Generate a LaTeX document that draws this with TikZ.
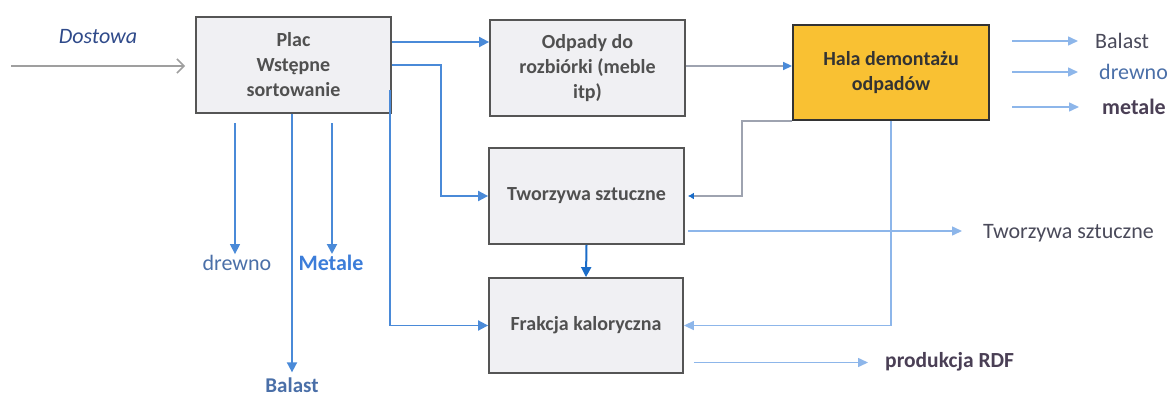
\documentclass[tikz,border=0pt]{standalone}
\usepackage{fontspec}
\setmainfont{Carlito}
\usetikzlibrary{arrows.meta,calc}
\definecolor{boxfill}{HTML}{F0F0F3}
\definecolor{boxline}{HTML}{555555}
\definecolor{boxtext}{HTML}{505050}
\definecolor{halafill}{HTML}{F9C133}
\definecolor{mblue}{HTML}{4A8AD8}
\definecolor{lblue}{HTML}{8DB6EA}
\definecolor{dblue}{HTML}{1A6CC8}
\definecolor{gline}{HTML}{9EA3B0}
\definecolor{labtext}{HTML}{4A4A5A}
\definecolor{bluetext}{HTML}{4A6FA8}
\definecolor{dostcol}{HTML}{2F4A8A}
\definecolor{metcol}{HTML}{3C7DD9}
\definecolor{darklab}{HTML}{4A3F55}
\tikzset{
  procbox/.style={draw=boxline, line width=1.8pt, fill=boxfill, text=boxtext,
    minimum width=195pt, minimum height=96pt, align=center, inner sep=2pt,
    font=\fontsize{20}{25}\selectfont\bfseries},
  halabox/.style={procbox, fill=halafill, draw=black!80, text=black!80},
  bluearrow/.style={draw=mblue, line width=1.8pt, -{Triangle[length=10pt,width=10pt]}},
  lightarrow/.style={draw=lblue, line width=1.5pt, -{Triangle[length=10pt,width=9pt]}},
  darkarrow/.style={draw=dblue, line width=2pt, -{Triangle[length=10pt,width=10pt]}},
  grayarrow/.style={draw=gray!75, line width=1.6pt, -{Straight Barb[length=7pt,width=14pt]}},
  thinarrow/.style={draw=gline, line width=1.4pt, -{Triangle[length=9pt,width=8pt,fill=mblue,color=mblue]}},
  lab/.style={font=\fontsize{22}{26}\selectfont, text=labtext, inner sep=1pt},
}
\begin{document}
\begin{tikzpicture}[x=1pt,y=-1pt]
\useasboundingbox (0,0) rectangle (1173,396);
% boxes
\node[procbox] (plac) at (293.5,65) {Plac\\Wstępne\\sortowanie};
\node[procbox] (odp) at (587.5,68) {Odpady do\\rozbiórki (meble\\itp)};
\node[halabox, minimum width=196pt, minimum height=95pt] (hala) at (891,72.5) {Hala demontażu\\odpadów};
\node[procbox] (tw) at (586.5,196) {Tworzywa sztuczne};
\node[procbox, minimum width=194pt, minimum height=95pt] (fr) at (586,325.5) {Frakcja kaloryczna};
% labels
\node[lab, font=\fontsize{22}{26}\selectfont\itshape, text=dostcol] (dost) at (98,37) {Dostowa};
\node[lab, text=bluetext] (drL) at (237,263) {drewno};
\node[lab, font=\fontsize{22}{26}\selectfont\bfseries, text=metcol] (metL) at (331,263) {Metale};
\node[lab, text=bluetext, font=\fontsize{21}{24}\selectfont\bfseries] (balL) at (292,385) {Balast};
\node[lab, anchor=west] (twL) at (982,233) {Tworzywa sztuczne};
\node[lab, anchor=west, font=\fontsize{21.5}{26}\selectfont\bfseries, text=darklab] (rdfL) at (884,362) {produkcja RDF};
\node[lab, anchor=west] (balR) at (1094,41) {Balast};
\node[lab, anchor=west, text=bluetext] (drR) at (1098,72) {drewno};
\node[lab, anchor=west, font=\fontsize{22}{26}\selectfont\bfseries, text=darklab] (metR) at (1101,107) {metale};
% coordinates for free ends
\coordinate (d0) at (11,66);
\coordinate (dw0) at (235,123);
\coordinate (mt0) at (332,123);
\coordinate (p1) at ([yshift=23pt]plac.east);
\coordinate (p2) at ([xshift=-2pt,yshift=-25pt]plac.east);
\coordinate (o1) at ([yshift=2pt]odp.east);
\coordinate (t1) at ([xshift=3pt,yshift=-35pt]tw.east);
\coordinate (r1) at ([xshift=10pt,yshift=-37pt]fr.east);
\coordinate (h1) at (1012,41);
\coordinate (h2) at (1012,72);
\coordinate (h3) at (1012,107);
% connectors
\draw[grayarrow, shorten >=10pt] (d0) -- (d0 -| plac.west);
\draw[bluearrow] (p1) -- (p1 -| odp.west);
\draw[bluearrow] (plac.east) -- ++(49,0) |- (tw.west);
\draw[bluearrow] (p2) |- (fr.west);
\draw[bluearrow, line width=1.5pt] (dw0) -- (dw0 |- drL.north) ;
\draw[bluearrow, shorten >=4pt] (plac.south -| balL) -- (balL.north);
\draw[bluearrow, line width=2pt] (mt0) -- (mt0 |- metL.north);
\draw[thinarrow] (o1) -- (o1 -| hala.west);
\draw[draw=gline, line width=1.5pt, -{Latex[length=6pt,width=7pt,color=dblue]}, shorten >=3pt]
  (hala.south west) -| ($(tw.east)+(57,0)$) -- (tw.east);
\draw[lightarrow] (hala.south) |- (fr.east);
\draw[lightarrow, shorten >=20pt] (t1) -- (t1 -| twL.west);
\draw[darkarrow] (tw.south) -- (fr.north);
\draw[lightarrow, shorten >=16pt] (r1) -- (r1 -| rdfL.west);
\draw[lightarrow, shorten >=16pt] (h1) -- (h1 -| balR.west);
\draw[lightarrow, shorten >=20pt] (h2) -- (h2 -| drR.west);
\draw[lightarrow, shorten >=22pt] (h3) -- (h3 -| metR.west);
\end{tikzpicture}
\end{document}
